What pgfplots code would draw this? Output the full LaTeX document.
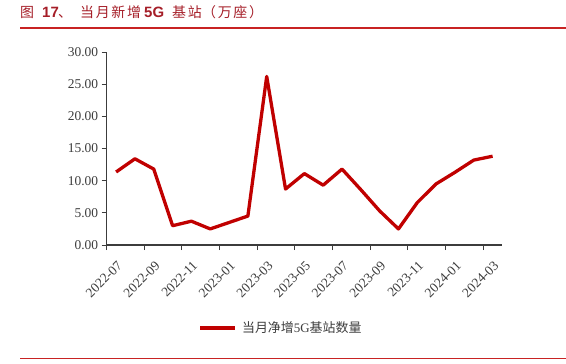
\documentclass[border=0pt]{standalone}
\usepackage{fontspec}
\setmainfont{Liberation Serif}
\newfontfamily\cjk{Noto Sans CJK SC}
\newfontfamily\cjkt[LetterSpace=12]{Noto Sans CJK SC}
\newfontfamily\sansb{Liberation Sans}
\usepackage{pgfplots}
\pgfplotsset{compat=1.18}
\definecolor{linered}{RGB}{192,0,0}
\definecolor{titlered}{RGB}{165,30,40}
\definecolor{rulered}{RGB}{200,35,35}
\definecolor{axgray}{RGB}{60,60,60}
\begin{document}
\begin{tikzpicture}[x=1bp,y=1bp]
\useasboundingbox (0,0) rectangle (566,363);
\draw[rulered, line width=1.2bp] (20,335) -- (566,335);
\draw[rulered, line width=1.2bp] (20,4.5) -- (566,4.5);
\begin{scope}[every node/.style={anchor=base west, text=titlered, inner sep=0}]
\node at (20,346) {\fontsize{14}{16}\selectfont\cjk 图};
\node at (42,346) {\fontsize{15}{17}\selectfont\sansb\bfseries 17};
\node at (58,346) {\fontsize{14}{16}\selectfont\cjk 、};
\node at (80,346) {\fontsize{14}{16}\selectfont\cjkt 当月新增};
\node at (144,346) {\fontsize{15}{17}\selectfont\sansb\bfseries 5G};
\node at (172,346) {\fontsize{14}{16}\selectfont\cjkt 基站};
\node at (202,346) {\fontsize{14}{16}\selectfont\cjkt （万座）};
\end{scope}
\begin{axis}[
  at={(106.7bp,118bp)}, anchor=south west,
  scale only axis, width=395.3bp, height=193bp,
  xmin=0, xmax=21, ymin=0, ymax=30,
  axis lines*=left,
  xtick={0,2,...,20},
  xticklabels={2022-07,2022-09,2022-11,2023-01,2023-03,2023-05,2023-07,2023-09,2023-11,2024-01,2024-03},
  ytick={0,5,...,30},
  tick align=outside, major tick length=5bp,
  tick style={axgray, line width=1bp},
  axis line style={axgray, line width=1.2bp},
  /pgf/number format/assume math mode=true,
  yticklabel style={/pgf/number format/.cd, fixed, fixed zerofill, precision=2, /tikz/.cd},
  tick label style={font=\fontsize{13.5}{15}\selectfont, text=axgray},
  xticklabel style={rotate=45, anchor=north east, inner sep=1bp, xshift=1bp, yshift=-13bp},
  legend style={at={(0.441,-0.43)}, anchor=center, draw=none, fill=none,
    font=\cjk\fontsize{13}{15}\selectfont, text=axgray},
  legend image code/.code={\draw[#1, line width=3.5bp] (0bp,0bp) -- (35bp,0bp);},
  legend cell align=left,
  clip=false,
]
\addplot[linered, line width=3.3bp, line join=round] coordinates {
(0.5,11.35) (1.5,13.4) (2.5,11.8) (3.5,3.0) (4.5,3.7) (5.5,2.5) (6.5,3.5)
(7.5,4.5) (8.5,26.2) (9.5,8.7) (10.5,11.1) (11.5,9.3) (12.5,11.8) (13.5,8.6)
(14.5,5.3) (15.5,2.5) (16.5,6.6) (17.5,9.5) (18.5,11.3) (19.5,13.2) (20.5,13.8)
};
\addlegendentry{\hspace{3bp}当月净增{\rmfamily 5G}基站数量}
\end{axis}
\end{tikzpicture}
\end{document}
